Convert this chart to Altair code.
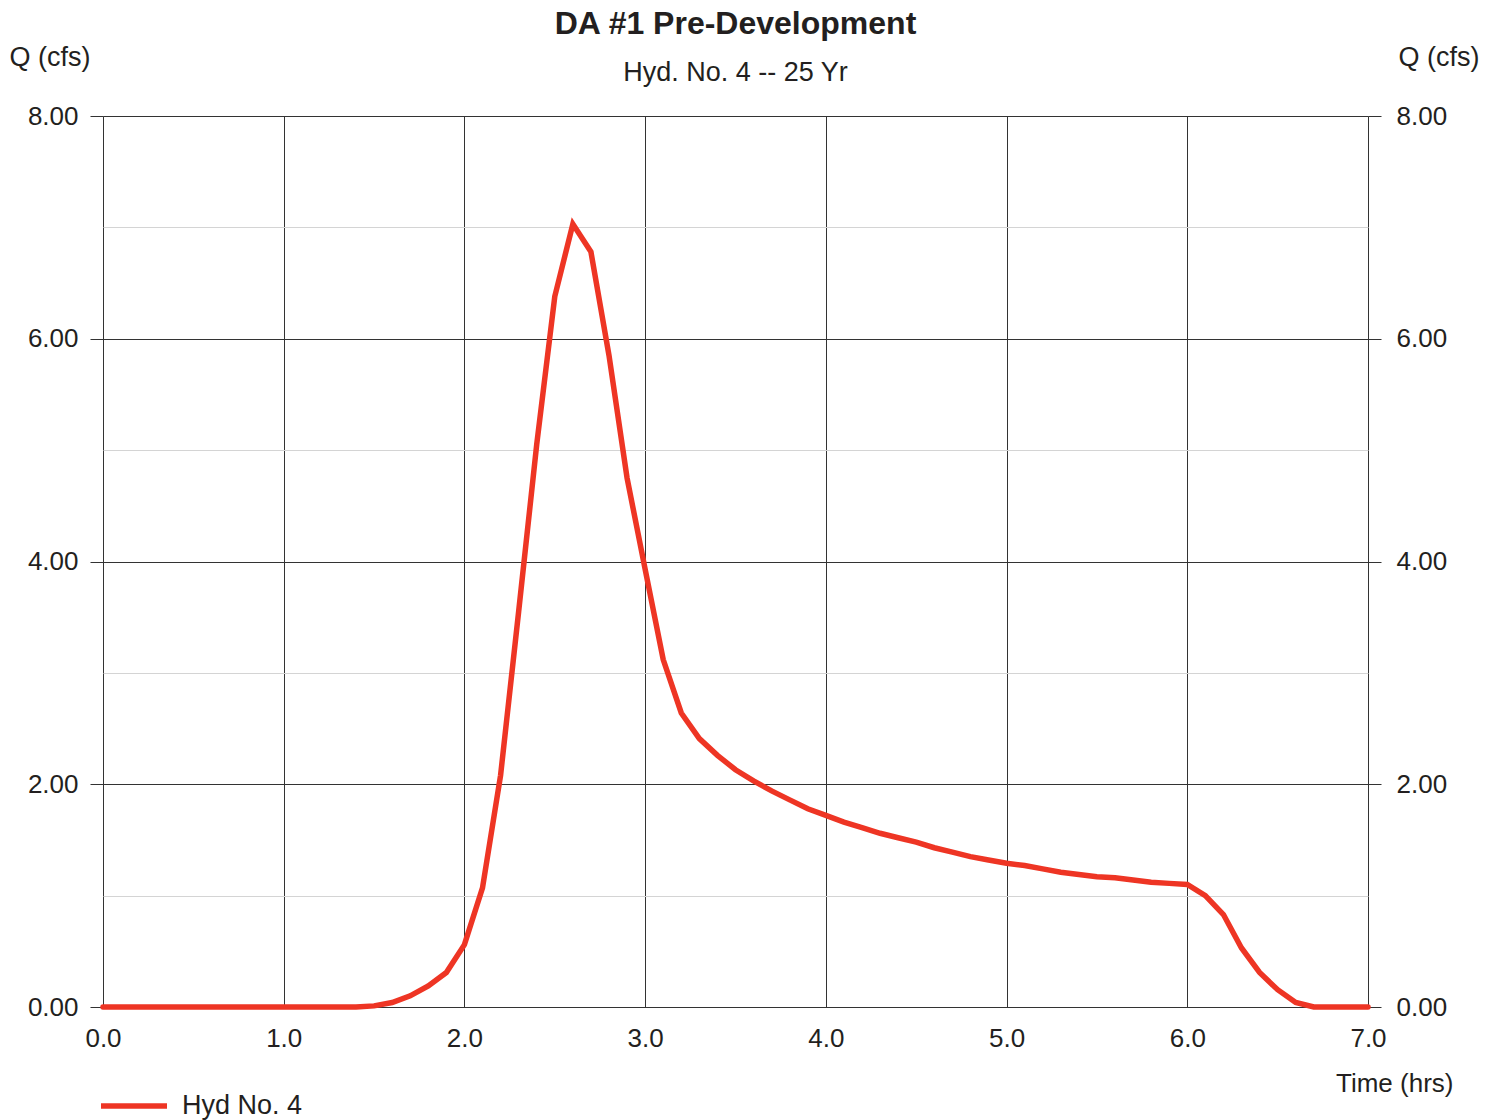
import altair as alt
import pandas as pd

# Hydrograph data (time in hrs, flow in cfs)
time_hrs = [0.0, 0.1, 0.2, 0.3, 0.4, 0.5, 0.6, 0.7, 0.8, 0.9,
            1.0, 1.1, 1.2, 1.3, 1.4, 1.5, 1.6, 1.7, 1.8, 1.9,
            2.0, 2.1, 2.2, 2.3, 2.4, 2.5, 2.6, 2.7, 2.8, 2.9,
            3.0, 3.1, 3.2, 3.3, 3.4, 3.5, 3.6, 3.7, 3.8, 3.9,
            4.0, 4.1, 4.2, 4.3, 4.4, 4.5, 4.6, 4.7, 4.8, 4.9,
            5.0, 5.1, 5.2, 5.3, 5.4, 5.5, 5.6, 5.7, 5.8, 5.9,
            6.0, 6.1, 6.2, 6.3, 6.4, 6.5, 6.6, 6.7, 6.8, 6.9,
            7.0]
q_cfs = [0.00, 0.00, 0.00, 0.00, 0.00, 0.00, 0.00, 0.00, 0.00, 0.00,
         0.00, 0.00, 0.00, 0.00, 0.00, 0.01, 0.04, 0.10, 0.19, 0.31,
         0.56, 1.07, 2.08, 3.55, 5.05, 6.38, 7.03, 6.78, 5.85, 4.75,
         3.93, 3.12, 2.64, 2.41, 2.26, 2.13, 2.03, 1.94, 1.86, 1.78,
         1.72, 1.66, 1.61, 1.56, 1.52, 1.48, 1.43, 1.39, 1.35, 1.32,
         1.29, 1.27, 1.24, 1.21, 1.19, 1.17, 1.16, 1.14, 1.12, 1.11,
         1.10, 1.00, 0.83, 0.53, 0.31, 0.155, 0.04, 0.00, 0.00, 0.00,
         0.00]
series_name = "Hyd No. 4"

x_ticks = [0, 1, 2, 3, 4, 5, 6, 7]
y_ticks = [0, 1, 2, 3, 4, 5, 6, 7, 8]

df = pd.DataFrame({"t": time_hrs, "q": q_cfs, "s": [series_name] * len(time_hrs)})

FONT = "Liberation Sans"
TXT = "#231F20"
GRID = "#333333"
MINOR = "#d4d4d4"
RED = "#EE3524"
FS = 26
TFS = 27

minor_cond = {"condition": {"test": "datum.value % 2 === 1", "value": MINOR}, "value": GRID}
tick_cond = {"condition": {"test": "datum.value % 2 === 1", "value": "transparent"}, "value": GRID}
ylabel_expr = "datum.value % 2 === 0 ? format(datum.value, '.2f') : ''"

x_axis = alt.Axis(values=x_ticks, format=".1f", grid=True, gridColor=GRID,
                  gridWidth=1, gridOpacity=1, ticks=False, domain=False,
                  labelFontSize=FS, labelFont=FONT, labelColor=TXT, labelFlush=False,
                  labelPadding=18, title="Time (hrs)", titleFont=FONT,
                  titleFontSize=FS, titleFontWeight="normal", titleColor=TXT,
                  titleX=1350, titleY=76, titleAlign="right",
                  titleBaseline="middle")
x_scale = alt.Scale(domain=[0, 7], nice=False, zero=False)

y_scale = alt.Scale(domain=[0, 8], nice=False)

left_axis = alt.Axis(values=y_ticks, labelExpr=ylabel_expr, grid=True,
                     gridColor=minor_cond, gridOpacity=1, gridWidth=1,
                     tickColor=tick_cond, tickSize=13, domain=False, labelFlush=False,
                     labelFontSize=FS, labelFont=FONT, labelColor=TXT, labelPadding=12,
                     orient="left", title="Q (cfs)", titleAngle=0, titleX=-94,
                     titleY=-59, titleAlign="left", titleBaseline="middle",
                     titleFont=FONT, titleFontSize=TFS, titleFontWeight="normal",
                     titleColor=TXT)

right_axis = alt.Axis(values=y_ticks, labelExpr=ylabel_expr, grid=False,
                      tickColor=tick_cond, tickSize=13, domain=False, labelFlush=False,
                      labelFontSize=FS, labelFont=FONT, labelColor=TXT, labelPadding=15,
                      orient="right", title="Q (cfs)", titleAngle=0, titleX=30,
                      titleY=-59, titleAlign="left", titleBaseline="middle",
                      titleFont=FONT, titleFontSize=TFS, titleFontWeight="normal",
                      titleColor=TXT)

line = alt.Chart(df).mark_line(strokeWidth=5.5, strokeCap="round", strokeJoin="miter").encode(
    x=alt.X("t:Q", scale=x_scale, axis=x_axis),
    y=alt.Y("q:Q", scale=y_scale, axis=left_axis),
    color=alt.Color("s:N", scale=alt.Scale(domain=[series_name], range=[RED]),
                    legend=alt.Legend(orient="none", legendX=-5, legendY=954,
                                      title=None, symbolType="stroke",
                                      symbolStrokeWidth=5.5, symbolSize=4356,
                                      labelFontSize=TFS, labelFont=FONT,
                                      labelColor=TXT, labelOffset=12, padding=0,
                                      symbolStrokeColor=RED)),
)

right = alt.Chart(df).mark_line(opacity=0).encode(
    x=alt.X("t:Q", scale=x_scale, axis=x_axis),
    y=alt.Y("q:Q", scale=y_scale, axis=right_axis),
)

chart = alt.layer(line, right).resolve_axis(y="independent").resolve_scale(y="shared").properties(
    width=1265,
    height=891,
    autosize=alt.AutoSizeParams(type="none"),
    padding={"left": 103, "top": 116, "right": 129, "bottom": 113},
    title=alt.TitleParams(text="DA #1 Pre-Development", subtitle="Hyd. No. 4 -- 25 Yr",
                          font=FONT, fontSize=32, fontWeight="bold", color=TXT,
                          subtitleFont=FONT, subtitleFontSize=27, subtitleColor=TXT,
                          anchor="middle", offset=-44, subtitlePadding=19),
).configure_view(stroke=GRID, strokeWidth=1).configure(background="white")

chart.save("out.html", embed_options={"renderer": "svg", "actions": False})
